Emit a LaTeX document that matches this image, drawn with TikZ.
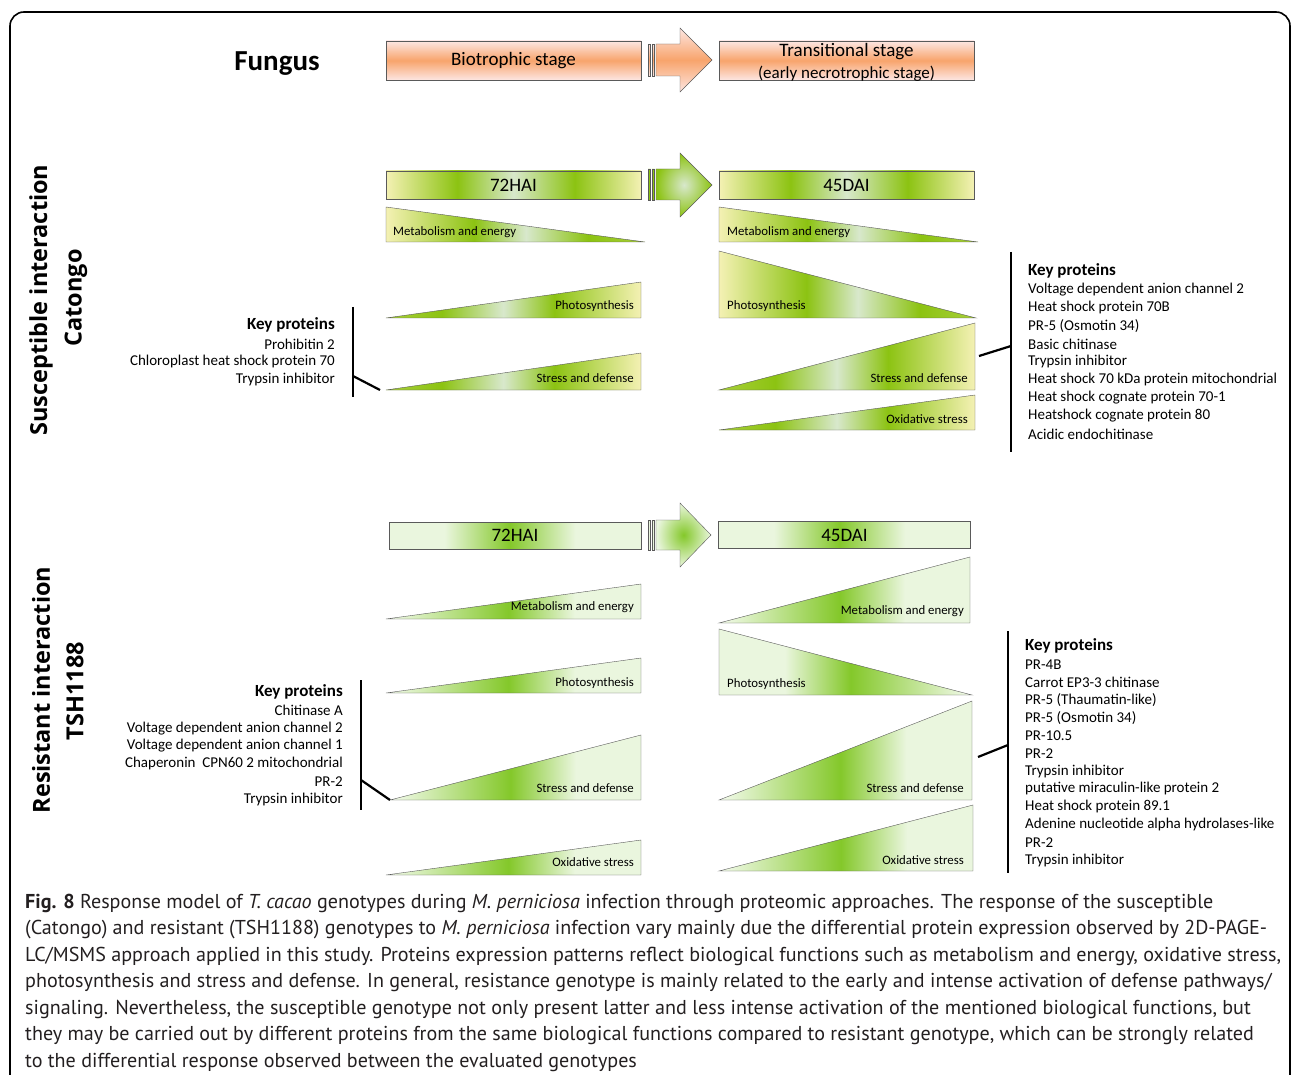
\documentclass[tikz,border=0pt]{standalone}
\usepackage{fontspec}
\setmainfont{Carlito}
\newfontfamily\sidefont{Open Sans}
\newfontfamily\capfont{PT Sans}
\usetikzlibrary{positioning}
\definecolor{edgegray}{HTML}{5A5A5A}
\definecolor{fgorange}{HTML}{F8A46C}
\definecolor{fgpale}{HTML}{FDE6E2}
\definecolor{spale}{HTML}{F4F1B4}
\definecolor{sgreen}{HTML}{8CC312}
\definecolor{slight}{HTML}{D8E8CC}
\definecolor{stip}{HTML}{A8CF3A}
\definecolor{rpale}{HTML}{EAF6DE}
\definecolor{rwhite}{HTML}{F4FBEE}
\definecolor{rgreen}{HTML}{84C82A}
\definecolor{captext}{HTML}{231F20}

\pgfdeclarehorizontalshading{sbarshade}{100bp}{color(0bp)=(spale); color(25bp)=(spale); color(39bp)=(sgreen); color(50bp)=(slight); color(62bp)=(sgreen); color(75bp)=(spale); color(100bp)=(spale)}
\pgfdeclarehorizontalshading{strishade}{100bp}{color(0bp)=(stip); color(25bp)=(stip); color(36bp)=(sgreen); color(48bp)=(slight); color(58bp)=(sgreen); color(75bp)=(spale); color(100bp)=(spale)}
\pgfdeclarehorizontalshading{rbarshade}{100bp}{color(0bp)=(rpale); color(25bp)=(rpale); color(36bp)=(rpale); color(49bp)=(rgreen); color(62bp)=(rpale); color(75bp)=(rpale); color(100bp)=(rpale)}
\pgfdeclarehorizontalshading{rtrishade}{100bp}{color(0bp)=(rwhite); color(25bp)=(rwhite); color(49bp)=(rgreen); color(62bp)=(rpale); color(75bp)=(rpale); color(100bp)=(rpale)}

\tikzset{
  stagebox/.style={draw=edgegray, thin, shade, top color=fgpale, bottom color=fgpale,
    middle color=fgorange, minimum width=255pt, minimum height=39pt, inner sep=0pt,
    font=\fontsize{19}{21}\selectfont, align=center},
  sbar/.style={draw=edgegray, thin, shade, shading=sbarshade, minimum width=255pt,
    minimum height=28pt, inner sep=0pt, font=\fontsize{19}{21}\selectfont},
  rbar/.style={draw=edgegray, thin, shade, shading=rbarshade, minimum width=252pt,
    minimum height=27pt, inner sep=0pt, font=\fontsize{19}{21}\selectfont},
  stri/.style={draw=edgegray, thin, shade, shading=strishade},
  rtri/.style={draw=edgegray, thin, shade, shading=rtrishade},
  trilbl/.style={font=\fontsize{12.8}{14}\selectfont, inner sep=0pt},
  keyhead/.style={font=\fontsize{17}{19}\selectfont\bfseries, inner sep=0pt},
  keyitem/.style={font=\fontsize{15}{17}\selectfont, inner sep=0pt},
  bracket/.style={line width=2.2pt, black},
  sidelbl/.style={font=\fontsize{23.5}{26}\selectfont\sidefont\bfseries, inner sep=0pt, rotate=90}
}

\begin{document}
\begin{tikzpicture}[x=1pt, y=-1pt]
\useasboundingbox (0,0) rectangle (1293,1075);

% frame
\draw[line width=1.6pt, rounded corners=14pt] (10,1090) -- (10,12) -- (1290,12) -- (1290,1090);

% --- Fungus row ---
\node[font=\fontsize{29}{31}\selectfont\bfseries] (fungus) at (277,64) {Fungus};
\node[stagebox] (bio) at (513.5,60.5) {Biotrophic stage};
\node[stagebox] (trans) at (846.5,60.5) {};
\node[align=center, inner sep=0pt, font=\fontsize{19}{21}\selectfont] (transtxt) at (846.5,62.5)
  {Transitional stage\\[1pt]{\fontsize{17}{19}\selectfont(early necrotrophic stage)}};
\draw[edgegray, thin, shade, top color=fgpale, bottom color=fgpale, middle color=fgorange]
  (648,44) rectangle (650.5,76) (652,44) rectangle (654.5,76);
\draw[edgegray, thin, shade, top color=fgpale, bottom color=fgpale, middle color=fgorange]
  (656,44) -- (680,44) -- (680,28) -- (712,60) -- (680,92) -- (680,76) -- (656,76) -- cycle;

% --- Susceptible interaction ---
\node[sidelbl] (susc) at (41,300) {Susceptible interaction};
\node[sidelbl] (catongo) at (76,298) {Catongo};

\node[sbar] (s72) at (513.5,185) {72HAI};
\node[sbar] (s45) at (846.5,185) {45DAI};
\draw[edgegray, thin, fill=sgreen] (648,169) rectangle (650.5,200) (652,169) rectangle (654.5,200);
\draw[edgegray, thin, shade, shading=radial, inner color=slight, outer color=sgreen]
  (656,169) -- (680,169) -- (680,153) -- (712,185) -- (680,217) -- (680,200) -- (656,200) -- cycle;

% 72HAI
\draw[stri, shading angle=180] (386,207) -- (386,242) -- (645,242) -- cycle;
\node[trilbl, anchor=west] (sme72) at (393,232) {Metabolism and energy};
\draw[stri] (386,318) -- (641,282) -- (641,318) -- cycle;
\node[trilbl, anchor=east] (sps72) at (634,306) {Photosynthesis};
\draw[stri] (386,390) coordinate (ssdtip) -- (641,353) -- (641,390) -- cycle;
\node[trilbl, anchor=east] (ssd72) at (634,378) {Stress and defense};

% 45DAI
\draw[stri, shading angle=180] (719,207) -- (719,242) -- (978,242) -- cycle;
\node[trilbl, anchor=west] (sme45) at (727,232) {Metabolism and energy};
\draw[stri, shading angle=180] (719,251) -- (719,318) -- (976,318) -- cycle;
\node[trilbl, anchor=west] (sps45) at (727,306) {Photosynthesis};
\draw[stri] (719,390) -- (975,323) -- (975,390) -- cycle;
\node[trilbl, anchor=east] (ssd45) at (968,378) {Stress and defense};
\draw[stri] (719,430) -- (975,395) -- (975,430) -- cycle;
\node[trilbl, anchor=east] (sox45) at (968,419) {Oxidative stress};

% key proteins, left
\node[keyhead, anchor=east] (skl) at (335,325) {Key proteins};
\foreach \t [count=\i] in {Prohibitin 2, Chloroplast heat shock protein 70, Trypsin inhibitor}
  \node[keyitem, anchor=east] (skl\i) at (335,{326+18*\i}) {\t};
\coordinate (sbl) at (353,376);
\coordinate (sdl) at (380,390);
\draw[bracket] (353,307) -- (353,397);
\draw[bracket] (sbl) -- (sdl);

% key proteins, right
\node[keyhead, anchor=west] (skr) at (1028,271) {Key proteins};
\foreach \t [count=\i] in {Voltage dependent anion channel 2, Heat shock protein 70B,
    PR-5 (Osmotin 34), Basic chitinase, Trypsin inhibitor,
    Heat shock 70 kDa protein mitochondrial, Heat shock cognate protein 70-1,
    Heatshock cognate protein 80, Acidic endochitinase}
  \node[keyitem, anchor=west] (skr\i) at (1028,{272+18*\i}) {\t};
\coordinate (sbr) at (1011,346);
\coordinate (sdr) at (979,356);
\draw[bracket] (1011,252) -- (1011,452);
\draw[bracket] (sdr) -- (sbr);

% --- Resistant interaction ---
\node[sidelbl] (resi) at (41,690) {Resistant interaction};
\node[sidelbl] (tsh) at (75,691) {TSH1188};

\node[rbar] (r72) at (515,535.5) {72HAI};
\node[rbar] (r45) at (844.5,535) {45DAI};
\draw[edgegray, thin, fill=rpale] (648,520) rectangle (650.5,550) (652,520) rectangle (654.5,550);
\draw[edgegray, thin, shade, shading=radial, inner color=rgreen, outer color=rpale]
  (656,520) -- (680,520) -- (680,503) -- (711,535) -- (680,567) -- (680,550) -- (656,550) -- cycle;

% 72HAI
\draw[rtri] (386,619) -- (641,584) -- (641,619) -- cycle;
\node[trilbl, anchor=east] (rme72) at (634,607) {Metabolism and energy};
\draw[rtri] (386,693) -- (641,658) -- (641,693) -- cycle;
\node[trilbl, anchor=east] (rps72) at (634,683) {Photosynthesis};
\draw[rtri] (390,800) coordinate (rsdtip) -- (641,735) -- (641,800) -- cycle;
\node[trilbl, anchor=east] (rsd72) at (634,788) {Stress and defense};
\draw[rtri] (386,875) -- (641,840) -- (641,875) -- cycle;
\node[trilbl, anchor=east] (rox72) at (634,862) {Oxidative stress};

% 45DAI
\draw[rtri] (719,623) -- (970,557) -- (970,623) -- cycle;
\node[trilbl, anchor=east] (rme45) at (964,611) {Metabolism and energy};
\draw[rtri, shading angle=180] (719,629) -- (719,695) -- (972,695) -- cycle;
\node[trilbl, anchor=west] (rps45) at (727,684) {Photosynthesis};
\draw[rtri] (719,800) -- (972,701) -- (972,800) -- cycle;
\node[trilbl, anchor=east] (rsd45) at (964,788) {Stress and defense};
\draw[rtri] (719,871) -- (973,805) -- (973,871) -- cycle;
\node[trilbl, anchor=east] (rox45) at (964,860) {Oxidative stress};

% key proteins, left
\node[keyhead, anchor=east] (rkl) at (343,692) {Key proteins};
\foreach \t [count=\i] in {Chitinase A, Voltage dependent anion channel 2,
    Voltage dependent anion channel 1, Chaperonin~ CPN60 2 mitochondrial, PR-2, Trypsin inhibitor}
  \node[keyitem, anchor=east] (rkl\i) at (343,{692.5+17.8*\i}) {\t};
\coordinate (rbl) at (361,780);
\draw[bracket] (361,680) -- (361,810);
\draw[bracket] (rbl) -- (rsdtip);

% key proteins, right
\node[keyhead, anchor=west] (rkr) at (1025,646) {Key proteins};
\foreach \t [count=\i] in {PR-4B, Carrot EP3-3 chitinase, PR-5 (Thaumatin-like), PR-5 (Osmotin 34),
    PR-10.5, PR-2, Trypsin inhibitor, putative miraculin-like protein 2, Heat shock protein 89.1,
    Adenine nucleotide alpha hydrolases-like, PR-2, Trypsin inhibitor}
  \node[keyitem, anchor=west] (rkr\i) at (1025,{646.5+17.8*\i}) {\t};
\coordinate (rbr) at (1008,745);
\coordinate (rdr) at (978,757);
\draw[bracket] (1008,631) -- (1008,873);
\draw[bracket] (rdr) -- (rbr);

% caption
\node[anchor=north west, inner sep=0pt, align=left, text=captext,
      font=\fontsize{20.1}{26.5}\selectfont\capfont] (cap) at (25,893.5)
  {\textbf{Fig. 8} Response model of \textit{T. cacao} genotypes during \textit{M. perniciosa} infection through proteomic approaches. The response of the susceptible\\
   (Catongo) and resistant (TSH1188) genotypes to \textit{M. perniciosa} infection vary mainly due the differential protein expression observed by 2D-PAGE-\\
   LC/MSMS approach applied in this study. Proteins expression patterns reflect biological functions such as metabolism and energy, oxidative stress,\\
   photosynthesis and stress and defense. In general, resistance genotype is mainly related to the early and intense activation of defense pathways/\\
   signaling. Nevertheless, the susceptible genotype not only present latter and less intense activation of the mentioned biological functions, but\\
   they may be carried out by different proteins from the same biological functions compared to resistant genotype, which can be strongly related\\
   to the differential response observed between the evaluated genotypes};

\end{tikzpicture}
\end{document}
